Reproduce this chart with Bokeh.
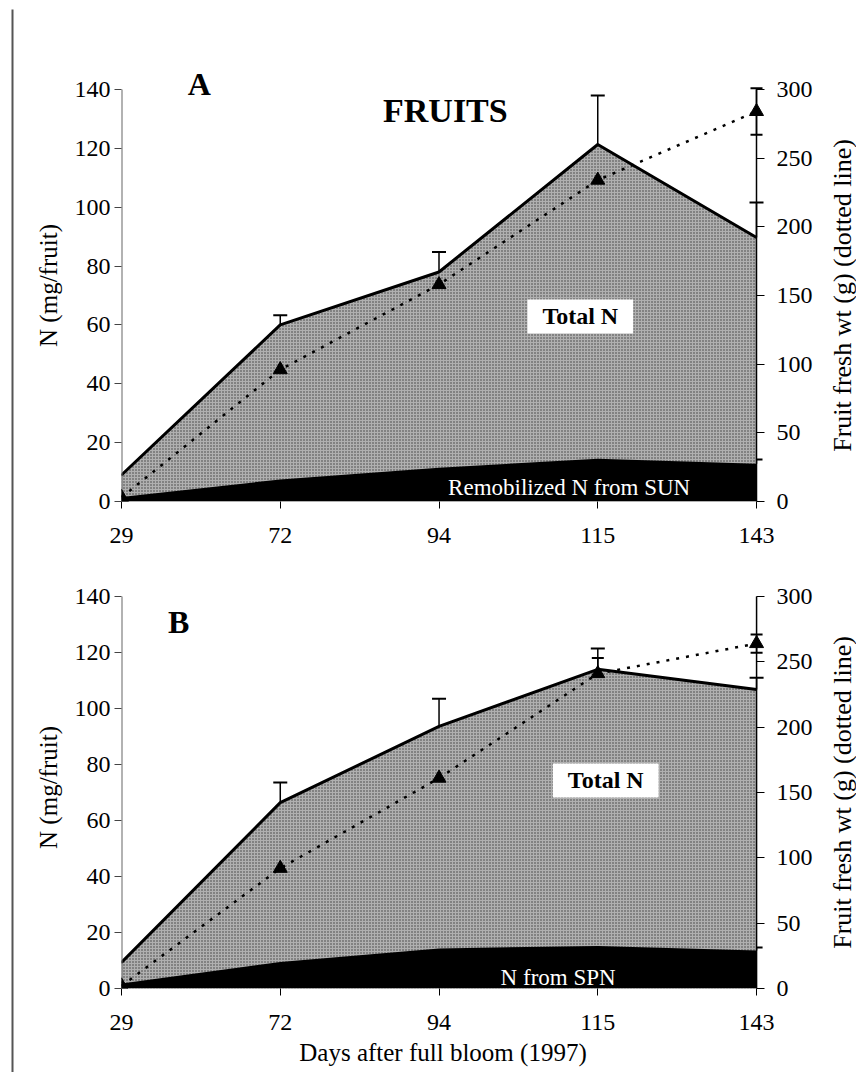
from bokeh.plotting import figure
from bokeh.models import (Range1d, LinearAxis, FixedTicker, Label, Whisker, TeeHead,
                          ColumnDataSource)
from bokeh.layouts import row, column
from bokeh.embed import file_html
from bokeh.resources import INLINE

# ---------------- data ----------------
days = ["29", "72", "94", "115", "143"]

a_total_n = [9.0, 60.0, 78.0, 121.3, 89.7]
a_total_err = [0.0, 3.3, 6.8, 16.7, 11.9]
a_remob_n = [1.5, 7.5, 11.5, 14.5, 12.8]
a_remob_err = [0.5, 1.0, 1.0, 1.0, 1.5]
a_fresh_wt = [3.0, 96.0, 158.0, 234.0, 284.0]
a_fresh_err = [1.0, 4.0, 4.0, 5.0, 17.0]

b_total_n = [9.3, 66.4, 93.6, 114.0, 106.8]
b_total_err = [0.0, 7.2, 9.9, 7.4, 4.2]
b_spn_n = [1.8, 9.5, 14.3, 15.2, 13.6]
b_spn_err = [0.5, 1.0, 1.2, 2.0, 1.0]
b_fresh_wt = [2.0, 92.0, 161.0, 241.0, 264.0]
b_fresh_err = [1.0, 4.0, 6.0, 12.0, 7.0]

left_ticks = [0, 20, 40, 60, 80, 100, 120, 140]
right_ticks = [0, 50, 100, 150, 200, 250, 300]
N_MAX = 140
FW_MAX = 300
RIGHT_TITLE = "Fruit fresh wt (g) (dotted line)"

FONT = "Liberation Serif"
W = 810      # main panel width
WR = 32      # right-title strip width
WL = 14      # left rule strip width


def make_panel(height, borders, ext_top, ext_right, letter, letter_pos, total, total_err,
               part, part_err, part_text, part_pos, fw, fw_err, total_pos,
               title=None, title_pos=None, xlabel=""):
    left, right, top, bottom = borders
    xs = list(range(len(days)))
    nx = len(days) - 1
    frame_w = W - left - right
    frame_h = height - top - bottom
    x_end = nx * (frame_w + ext_right) / frame_w
    y_top = N_MAX * (frame_h + ext_top) / frame_h
    fw_top = FW_MAX * y_top / N_MAX

    p = figure(width=W, height=height, output_backend="svg", toolbar_location=None,
               x_range=Range1d(0, x_end), y_range=Range1d(0, y_top))
    p.min_border_left = left
    p.min_border_right = right - ext_right
    p.min_border_top = top - ext_top
    p.min_border_bottom = bottom
    p.extra_y_ranges = {"fw": Range1d(0, fw_top)}
    p.xgrid.visible = False
    p.ygrid.visible = False
    p.outline_line_color = None
    p.background_fill_color = "white"
    p.border_fill_color = "white"

    # total N area (stippled grey)
    p.varea(x=xs, y1=[0] * len(xs), y2=total, fill_color="#b0b0b0",
            hatch_pattern="dot", hatch_color="#3a3a3a", hatch_scale=3, hatch_weight=1)
    p.line(xs, total, line_color="black", line_width=3)
    src_t = ColumnDataSource(dict(x=xs, lo=total, hi=[t + e for t, e in zip(total, total_err)]))
    p.add_layout(Whisker(source=src_t, base="x", lower="lo", upper="hi",
                         line_color="black", line_width=1.5,
                         upper_head=TeeHead(size=14, line_width=2, line_color="black"),
                         lower_head=None))
    # part N (black area)
    p.varea(x=xs, y1=[0] * len(xs), y2=part, fill_color="black")
    src_p = ColumnDataSource(dict(x=xs, lo=part, hi=[t + e for t, e in zip(part, part_err)]))
    p.add_layout(Whisker(source=src_p, base="x", lower="lo", upper="hi",
                         line_color="black", line_width=1.5,
                         upper_head=TeeHead(size=12, line_width=2, line_color="black"),
                         lower_head=None))

    # axis spines (span exactly the tick range)
    p.segment(x0=[0], y0=[0], x1=[0], y1=[N_MAX], line_color="#666666", line_width=2)
    p.segment(x0=[nx], y0=[0], x1=[nx], y1=[N_MAX], line_color="black", line_width=1.5)

    # fresh weight dotted line
    p.line(xs, fw, y_range_name="fw", line_color="black", line_width=2.5, line_dash="3 7")
    src_f = ColumnDataSource(dict(x=xs, lo=[v - e for v, e in zip(fw, fw_err)],
                                  hi=[v + e for v, e in zip(fw, fw_err)]))
    p.add_layout(Whisker(source=src_f, base="x", lower="lo", upper="hi", y_range_name="fw",
                         line_color="black", line_width=1.5,
                         upper_head=TeeHead(size=12, line_width=2, line_color="black"),
                         lower_head=TeeHead(size=12, line_width=2, line_color="black")))
    p.scatter(xs, fw, y_range_name="fw", marker="triangle", size=14,
              fill_color="black", line_color="black")

    # axes
    xa = p.xaxis[0]
    xa.ticker = FixedTicker(ticks=xs)
    xa.major_label_overrides = {i: d for i, d in enumerate(days)}
    xa.minor_tick_line_color = None
    xa.major_tick_in = 0
    xa.major_tick_out = 7
    xa.axis_line_color = None
    xa.major_label_standoff = 19
    xa.major_label_text_font = FONT
    xa.major_label_text_font_size = "24px"
    xa.major_label_text_color = "black"
    if xlabel:
        xa.axis_label = xlabel
        xa.axis_label_text_font = FONT
        xa.axis_label_text_font_size = "25px"
        xa.axis_label_text_font_style = "normal"
        xa.axis_label_text_color = "black"
        xa.axis_label_standoff = 6

    ya = p.yaxis[0]
    ya.ticker = FixedTicker(ticks=left_ticks)
    ya.minor_tick_line_color = None
    ya.major_tick_in = 0
    ya.major_tick_out = 7
    ya.axis_line_color = None
    ya.major_tick_line_color = "#444444"
    ya.major_label_standoff = 4
    ya.major_label_text_font = FONT
    ya.major_label_text_font_size = "24px"
    ya.major_label_text_color = "black"
    ya.axis_label = "N (mg/fruit)"
    ya.axis_label_text_font = FONT
    ya.axis_label_text_font_size = "25px"
    ya.axis_label_text_font_style = "normal"
    ya.axis_label_text_color = "black"
    ya.axis_label_standoff = 10

    ra = LinearAxis(y_range_name="fw", ticker=FixedTicker(ticks=right_ticks))
    ra.minor_tick_line_color = None
    ra.major_tick_in = ext_right
    ra.major_tick_out = 0
    ra.axis_line_color = None
    ra.major_label_standoff = 12
    ra.major_label_text_font = FONT
    ra.major_label_text_font_size = "24px"
    ra.major_label_text_color = "black"
    p.add_layout(ra, "right")

    # texts
    p.add_layout(Label(x=letter_pos[0], y=letter_pos[1], text=letter, text_font=FONT,
                       text_font_size="32px", text_font_style="bold", text_align="center",
                       text_baseline="middle", text_color="black"))
    if title:
        p.add_layout(Label(x=title_pos[0], y=title_pos[1], text=title, text_font=FONT,
                           text_font_size="34px", text_font_style="bold",
                           text_align="center", text_baseline="middle", text_color="black"))
    p.add_layout(Label(x=total_pos[0], y=total_pos[1], text="Total N", text_font=FONT,
                       text_font_size="24px", text_font_style="bold", text_align="center",
                       text_baseline="middle", text_color="black",
                       background_fill_color="white",
                       padding=dict(left=15, right=15, top=4, bottom=4)))
    p.add_layout(Label(x=part_pos[0], y=part_pos[1], text=part_text, text_font=FONT,
                       text_font_size="23px", text_align="center",
                       text_baseline="middle", text_color="white"))
    return p


def right_title_strip(height, top, bottom):
    """Narrow strip whose (left) axis title reads bottom-to-top like the original."""
    r = figure(width=WR, height=height, output_backend="svg", toolbar_location=None,
               x_range=Range1d(0, 1), y_range=Range1d(0, FW_MAX))
    r.min_border_left = WR - 1
    r.min_border_right = 0
    r.min_border_top = top
    r.min_border_bottom = bottom
    r.xaxis.visible = False
    r.grid.visible = False
    r.outline_line_color = None
    ax = r.yaxis[0]
    ax.ticker = FixedTicker(ticks=[])
    ax.minor_tick_line_color = None
    ax.major_tick_line_color = None
    ax.axis_line_color = None
    ax.axis_label = RIGHT_TITLE
    ax.axis_label_text_font = FONT
    ax.axis_label_text_font_size = "26px"
    ax.axis_label_text_font_style = "normal"
    ax.axis_label_text_color = "black"
    ax.axis_label_standoff = 0
    return r


pA = make_panel(570, (107, 68, 89, 69), 20, 8, "A", (0.49, 141.7),
                a_total_n, a_total_err, a_remob_n, a_remob_err,
                "Remobilized N from SUN", (2.82, 4.8), a_fresh_wt, a_fresh_err,
                (2.89, 62.9), title="FRUITS", title_pos=(2.04, 132.9))
pB = make_panel(502, (102, 67, 26, 84), 10, 8, "B", (0.36, 131.0),
                b_total_n, b_total_err, b_spn_n, b_spn_err,
                "N from SPN", (2.75, 3.9), b_fresh_wt, b_fresh_err,
                (3.05, 74.3), xlabel="Days after full bloom (1997)")
rA = right_title_strip(570, 89, 69)
rB = right_title_strip(502, 26, 84)

# left vertical rule of the page
pL = figure(width=WL, height=1072, output_backend="svg", toolbar_location=None,
            x_range=Range1d(0, WL), y_range=Range1d(1072, 0))
pL.min_border = 0
pL.axis.visible = False
pL.grid.visible = False
pL.outline_line_color = None
pL.segment(x0=[12], y0=[9], x1=[12], y1=[1072], line_color="#555555", line_width=2)

layout = row(pL, column(pA, pB), column(rA, rB))
open("out.html", "w").write(file_html(layout, INLINE))
